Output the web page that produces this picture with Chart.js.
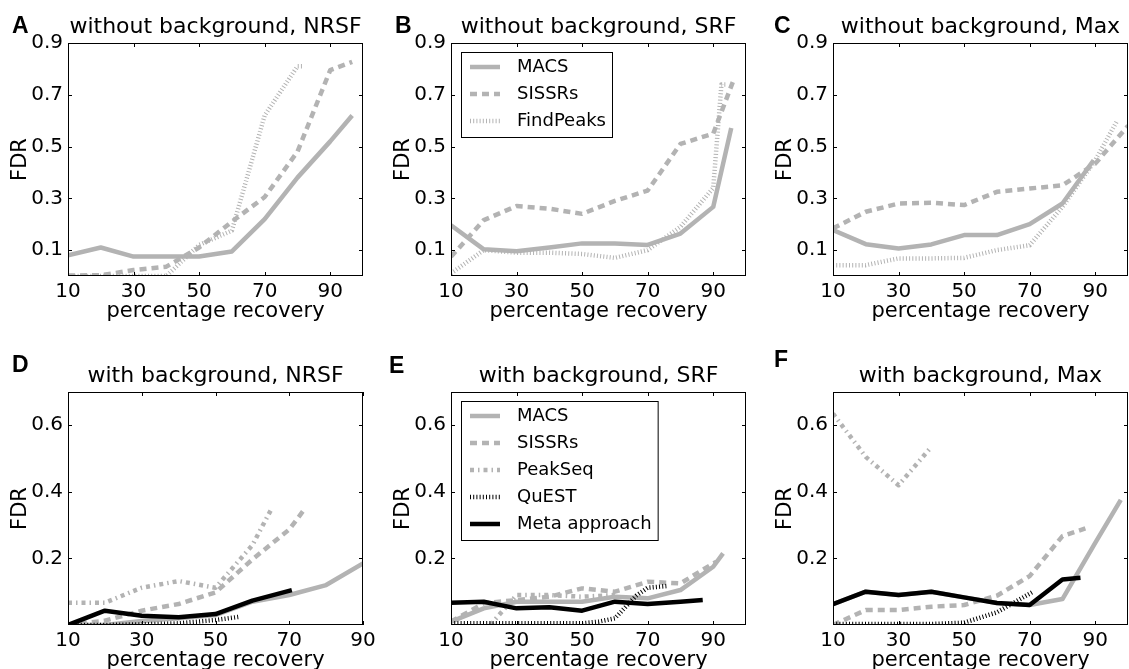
<!DOCTYPE html>
<html>
<head>
<meta charset="utf-8">
<script src="https://cdn.jsdelivr.net/npm/chart.js@4.4.1/dist/chart.umd.min.js"></script>
<style>
  html, body { margin: 0; padding: 0; background: #fff; overflow: hidden; }
  body { width: 1129px; height: 669px; position: relative; }
  canvas { position: absolute; }
</style>
</head>
<body>
<canvas id="pA"></canvas>
<canvas id="pB"></canvas>
<canvas id="pC"></canvas>
<canvas id="pD"></canvas>
<canvas id="pE"></canvas>
<canvas id="pF"></canvas>
<script>
// tick labels
const xTicks = [10, 30, 50, 70, 90];
const yTicksTop = [0.1, 0.3, 0.5, 0.7, 0.9];
const yTicksBottom = [0.2, 0.4, 0.6];

// A: without background, NRSF  ([recovery %, FDR])
const aMacs = [[10,0.08],[20,0.11],[30,0.075],[40,0.075],[50,0.075],[60,0.095],[70,0.22],[80,0.38],[90,0.52],[96.7,0.62]];
const aSissrs = [[10,0.002],[20,0.003],[30,0.023],[40,0.036],[50,0.11],[60,0.21],[70,0.305],[80,0.48],[90,0.795],[96.7,0.827]];
const aFindPeaks = [[10,0],[20,0],[30,0],[40,0],[50,0.12],[60,0.175],[70,0.62],[80,0.81],[82,0.81]];

// B: without background, SRF
const bMacs = [[10,0.196],[20,0.103],[30,0.096],[40,0.11],[50,0.126],[60,0.126],[70,0.12],[80,0.164],[90,0.267],[95.5,0.572]];
const bSissrs = [[10,0.074],[20,0.216],[30,0.27],[40,0.26],[50,0.24],[60,0.29],[70,0.33],[80,0.51],[90,0.55],[96,0.75]];
const bFindPeaks = [[10,0.01],[20,0.1],[30,0.09],[40,0.09],[50,0.085],[60,0.07],[70,0.1],[80,0.19],[90,0.34],[92.5,0.74],[94,0.74]];

// C: without background, Max
const cMacs = [[10,0.177],[20,0.123],[30,0.106],[40,0.122],[50,0.158],[60,0.158],[70,0.2],[80,0.28],[89.5,0.447]];
const cSissrs = [[10,0.184],[20,0.248],[30,0.28],[40,0.283],[50,0.274],[60,0.325],[70,0.338],[80,0.35],[90,0.434],[100,0.58]];
const cFindPeaks = [[10,0.042],[20,0.042],[30,0.068],[40,0.068],[50,0.07],[60,0.1],[70,0.119],[80,0.267],[90,0.447],[96.7,0.6]];

// D: with background, NRSF
const dMacs = [[10,0],[20,0],[30,0.012],[40,0.02],[50,0.03],[60,0.07],[70,0.09],[80,0.12],[90,0.185]];
const dSissrs = [[10,0],[20,0.013],[30,0.043],[40,0.063],[50,0.098],[60,0.197],[70,0.287],[74,0.346]];
const dPeakSeq = [[10,0.067],[20,0.067],[30,0.112],[40,0.132],[50,0.112],[60,0.24],[65,0.345]];
const dQuest = [[10,0],[20,0],[30,0.002],[40,0.005],[50,0.015],[56.7,0.025]];
const dMeta = [[10,0],[20,0.043],[30,0.028],[40,0.023],[50,0.033],[60,0.073],[70.7,0.105]];

// E: with background, SRF
const eMacs = [[10,0.01],[20,0.05],[30,0.07],[40,0.07],[50,0.07],[60,0.085],[70,0.08],[80,0.105],[90,0.175],[93,0.215]];
const eSissrs = [[10,0.01],[20,0.065],[30,0.075],[40,0.085],[50,0.11],[60,0.1],[70,0.13],[80,0.125],[90,0.185],[91,0.19]];
const ePeakSeq = [[22,0],[30,0.09],[40,0.09],[50,0.085],[60,0.09]];
const eQuest = [[10,0.005],[20,0.005],[30,0.005],[40,0.005],[50,0.005],[55,0.01],[60,0.02],[66.5,0.088],[70,0.112],[75.7,0.117]];
const eMeta = [[10,0.067],[20,0.07],[30,0.05],[40,0.053],[50,0.043],[60,0.07],[70,0.063],[80,0.07],[86.8,0.075]];

// F: with background, Max
const fMacs = [[10,0.063],[20,0.1],[30,0.09],[40,0.1],[50,0.083],[60,0.066],[70,0.06],[80,0.078],[90,0.247],[97.8,0.376]];
const fSissrs = [[10,0],[20,0.045],[30,0.045],[40,0.055],[50,0.06],[60,0.088],[70,0.147],[80,0.267],[87,0.29]];
const fPeakSeq = [[10,0.635],[20,0.505],[30,0.42],[40,0.535]];
const fQuest = [[10,0.003],[20,0.003],[30,0.003],[40,0.003],[50,0.007],[60,0.038],[70.7,0.098]];
const fMeta = [[10,0.063],[20,0.1],[30,0.09],[40,0.1],[50,0.083],[60,0.066],[70,0.06],[80,0.137],[85.5,0.142]];

const GREY = '#b3b3b3';
const FONT = "'DejaVu Sans', sans-serif";

// line styles per method
const styles = {
  'MACS':          { color: GREY, dash: [],             order: 5 },
  'SISSRs':        { color: GREY, dash: [7, 5],         order: 4 },
  'FindPeaks':     { color: GREY, dash: [1, 2.2],       order: 3 },
  'PeakSeq':       { color: GREY, dash: [4, 4, 1.5, 4], order: 3 },
  'QuEST':         { color: '#000', dash: [1, 2.2],     order: 2 },
  'Meta approach': { color: '#000', dash: [],           order: 1 }
};

function makeDataset(label, pts) {
  const s = styles[label];
  return {
    label: label,
    data: pts.map(p => ({ x: p[0], y: p[1] })),
    borderColor: s.color,
    borderWidth: 4.5,
    borderDash: s.dash,
    borderCapStyle: 'butt',
    borderJoinStyle: 'round',
    pointRadius: 0,
    tension: 0,
    fill: false,
    order: s.order
  };
}

// inward ticks on all four sides plus the frame
const frameTicks = {
  id: 'frameTicks',
  afterDatasetsDraw(chart) {
    const { ctx, chartArea: a, scales: { x, y } } = chart;
    ctx.save();
    ctx.strokeStyle = '#000';
    ctx.lineWidth = 1;
    ctx.setLineDash([]);
    ctx.beginPath();
    x.ticks.forEach(t => {
      const px = Math.round(x.getPixelForValue(t.value)) + 0.5;
      ctx.moveTo(px, a.bottom); ctx.lineTo(px, a.bottom - 4);
      ctx.moveTo(px, a.top); ctx.lineTo(px, a.top + 4);
    });
    y.ticks.forEach(t => {
      const py = Math.round(y.getPixelForValue(t.value)) + 0.5;
      ctx.moveTo(a.left, py); ctx.lineTo(a.left + 4, py);
      ctx.moveTo(a.right, py); ctx.lineTo(a.right - 4, py);
    });
    ctx.stroke();
    ctx.strokeRect(a.left + 0.5, a.top + 0.5, a.right - a.left - 1, a.bottom - a.top - 1);
    ctx.restore();
  }
};

// title above the plot and bold panel letter
const panelText = {
  id: 'panelText',
  afterDraw(chart, args, opts) {
    const { ctx, chartArea: a } = chart;
    ctx.save();
    ctx.fillStyle = '#000';
    ctx.textBaseline = 'alphabetic';
    ctx.font = '22px ' + FONT;
    ctx.textAlign = 'center';
    ctx.fillText(opts.title, (a.left + a.right) / 2, a.top - 10);
    ctx.font = "bold 23px 'Liberation Sans', sans-serif";
    ctx.textAlign = 'left';
    ctx.fillText(opts.letter, a.left + opts.letterDx, a.top + opts.letterDy);
    ctx.restore();
  }
};

// legend box inside the plot area
const boxLegend = {
  id: 'boxLegend',
  afterDraw(chart, args, opts) {
    if (!opts.show) return;
    const { ctx, chartArea: a } = chart;
    const sets = chart.data.datasets;
    ctx.save();
    ctx.font = '18px ' + FONT;
    const tw = Math.max(...sets.map(d => ctx.measureText(d.label).width));
    const left = a.left + 10, top = a.top + 9;
    const w = 56 + tw + 6, h = sets.length * 27 + 4;
    ctx.fillStyle = '#fff';
    ctx.fillRect(left + 0.5, top + 0.5, w, h);
    ctx.strokeStyle = '#000';
    ctx.lineWidth = 1;
    ctx.strokeRect(left + 0.5, top + 0.5, w, h);
    sets.forEach((d, i) => {
      const cy = top + 15 + i * 27;
      ctx.beginPath();
      ctx.strokeStyle = d.borderColor;
      ctx.lineWidth = d.borderWidth;
      ctx.lineCap = 'butt';
      ctx.setLineDash(d.borderDash);
      ctx.moveTo(left + 9, cy);
      ctx.lineTo(left + 39, cy);
      ctx.stroke();
      ctx.setLineDash([]);
      ctx.fillStyle = '#000';
      ctx.textBaseline = 'middle';
      ctx.textAlign = 'left';
      ctx.fillText(d.label, left + 56, cy);
    });
    ctx.restore();
  }
};

const panels = [
  { id: 'pA', left: 68,  top: 43,  xMax: 100, yMax: 0.9, yTicks: yTicksTop, title: 'without background, NRSF', letter: 'A', letterDx: -56, letterDy: -10, legend: false,
    sets: [['MACS', aMacs], ['SISSRs', aSissrs], ['FindPeaks', aFindPeaks]] },
  { id: 'pB', left: 451, top: 43,  xMax: 100, yMax: 0.9, yTicks: yTicksTop, title: 'without background, SRF', letter: 'B', letterDx: -56, letterDy: -10, legend: true,
    sets: [['MACS', bMacs], ['SISSRs', bSissrs], ['FindPeaks', bFindPeaks]] },
  { id: 'pC', left: 833, top: 43,  xMax: 100, yMax: 0.9, yTicks: yTicksTop, title: 'without background, Max', letter: 'C', letterDx: -59, letterDy: -10, legend: false,
    sets: [['MACS', cMacs], ['SISSRs', cSissrs], ['FindPeaks', cFindPeaks]] },
  { id: 'pD', left: 68,  top: 392, xMax: 90,  yMax: 0.7, yTicks: yTicksBottom, title: 'with background, NRSF', letter: 'D', letterDx: -56, letterDy: -20, legend: false,
    sets: [['MACS', dMacs], ['SISSRs', dSissrs], ['PeakSeq', dPeakSeq], ['QuEST', dQuest], ['Meta approach', dMeta]] },
  { id: 'pE', left: 451, top: 392, xMax: 100, yMax: 0.7, yTicks: yTicksBottom, title: 'with background, SRF', letter: 'E', letterDx: -62, letterDy: -19, legend: true,
    sets: [['MACS', eMacs], ['SISSRs', eSissrs], ['PeakSeq', ePeakSeq], ['QuEST', eQuest], ['Meta approach', eMeta]] },
  { id: 'pF', left: 833, top: 392, xMax: 100, yMax: 0.7, yTicks: yTicksBottom, title: 'with background, Max', letter: 'F', letterDx: -59, letterDy: -25, legend: false,
    sets: [['MACS', fMacs], ['SISSRs', fSissrs], ['PeakSeq', fPeakSeq], ['QuEST', fQuest], ['Meta approach', fMeta]] }
];

const PLOT_W = 295, PLOT_H = 233;
const Y_AXIS_W = 68, X_AXIS_H = 60, PAD_TOP = 43, PAD_RIGHT = 22;

panels.forEach(p => {
  const cv = document.getElementById(p.id);
  cv.width = Y_AXIS_W + PLOT_W + PAD_RIGHT;
  cv.height = PAD_TOP + PLOT_H + X_AXIS_H;
  cv.style.left = (p.left - Y_AXIS_W) + 'px';
  cv.style.top = (p.top - PAD_TOP) + 'px';

  new Chart(cv, {
    type: 'line',
    data: { datasets: p.sets.map(s => makeDataset(s[0], s[1])) },
    options: {
      responsive: false,
      animation: false,
      devicePixelRatio: 1,
      layout: { padding: { top: PAD_TOP, right: PAD_RIGHT, left: 0, bottom: 0 } },
      plugins: {
        legend: { display: false },
        tooltip: { enabled: false },
        panelText: { title: p.title, letter: p.letter, letterDx: p.letterDx, letterDy: p.letterDy },
        boxLegend: { show: p.legend }
      },
      scales: {
        x: {
          type: 'linear',
          min: 10,
          max: p.xMax,
          grid: { display: false, drawTicks: false },
          border: { display: false },
          afterBuildTicks: sc => { sc.ticks = xTicks.map(v => ({ value: v })); },
          afterFit: sc => { sc.height = X_AXIS_H; },
          ticks: { color: '#000', font: { family: FONT, size: 20 }, padding: 4, maxRotation: 0, autoSkip: false,
                   callback: v => String(v) },
          title: { display: true, text: 'percentage recovery', color: '#000', font: { family: FONT, size: 21 }, padding: { top: 0, bottom: 12 } }
        },
        y: {
          type: 'linear',
          min: 0,
          max: p.yMax,
          grid: { display: false, drawTicks: false },
          border: { display: false },
          afterBuildTicks: sc => { sc.ticks = p.yTicks.map(v => ({ value: v })); },
          afterFit: sc => { sc.width = Y_AXIS_W; },
          ticks: { color: '#000', font: { family: FONT, size: 20 }, padding: 5, autoSkip: false,
                   callback: v => v.toFixed(1) },
          title: { display: true, text: 'FDR', color: '#000', font: { family: FONT, size: 21 }, padding: { top: 8, bottom: 0 } }
        }
      }
    },
    plugins: [frameTicks, panelText, boxLegend]
  });
});
</script>
</body>
</html>
